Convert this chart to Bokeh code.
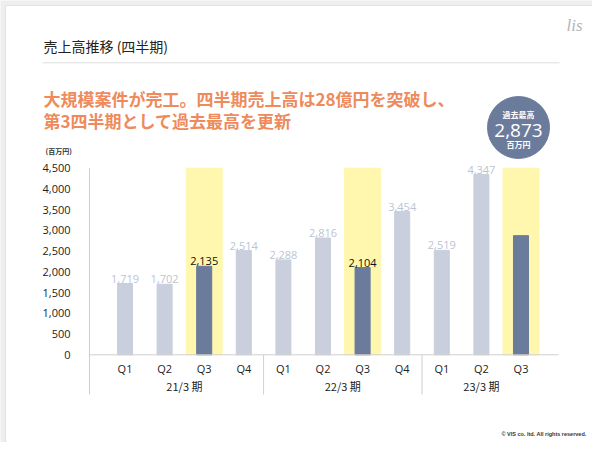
from bokeh.plotting import figure
from bokeh.models import Range1d
from bokeh.core.properties import value
from bokeh.embed import file_html
from bokeh.resources import INLINE

# data
quarters = ["Q1", "Q2", "Q3", "Q4", "Q1", "Q2", "Q3", "Q4", "Q1", "Q2", "Q3"]
periods = ["21/3 期", "22/3 期", "23/3 期"]
period_sizes = [4, 4, 3]
sales = [1719, 1702, 2135, 2514, 2288, 2816, 2104, 3454, 2519, 4347, 2873]
y_ticks = [0, 500, 1000, 1500, 2000, 2500, 3000, 3500, 4000, 4500]

title = "売上高推移 (四半期)"
headline = ["大規模案件が完工。四半期売上高は28億円を突破し、",
            "第3四半期として過去最高を更新"]
unit = "(百万円)"
badge_caption = "過去最高"
badge_unit = "百万円"
copyright_text = "© VIS co. ltd. All rights reserved."

# layout (pixels inside the figure)
W, H = 592, 442
X0, STEP = 124.5, 39.6           # centre of first bar, bar spacing
Y_ZERO, Y_TOP, Y_BOTTOM = 354.3, 167.7, 394.0
AX_LEFT, AX_RIGHT = 89, 558

LIGHT = "#c9cfdc"
DARK = "#6b7b9b"
YELLOW = "#fff7ae"
LIGHT_TXT = "#bcc3d3"
ORANGE = "#ee8a5c"
GRID = "#cfcfcf"
JP = value("Noto Sans CJK JP")
LAT = value("Open Sans")

y_max = y_ticks[-1]
ppu = (Y_ZERO - Y_TOP) / y_max

p = figure(width=W, height=H, output_backend="svg", toolbar_location=None,
           x_range=Range1d(0, W), y_range=Range1d(H, 0), min_border=0,
           x_axis_location=None, y_axis_location=None)
p.grid.visible = False
p.outline_line_color = None
p.background_fill_color = "#eeeeee"
p.border_fill_color = "#eeeeee"
p.extra_x_ranges = {"q": Range1d(-X0 / STEP, (W - X0) / STEP)}
p.extra_y_ranges = {"v": Range1d(-(H - Y_ZERO) / ppu, y_max + Y_TOP / ppu)}
v_bottom = -(Y_BOTTOM - Y_ZERO) / ppu

# slide card
p.quad(left=[5], right=[594], top=[5], bottom=[446], fill_color="white",
       line_color="#e2e2e2", line_width=1)

idx = list(range(len(sales)))
is_q3 = [q == "Q3" for q in quarters]
hl = [i for i in idx if is_q3[i]]

# highlight columns and bars
p.vbar(x=hl, top=y_max, bottom=0, width=0.91, color=YELLOW,
       x_range_name="q", y_range_name="v")
p.vbar(x=idx, top=sales, bottom=0, width=0.38,
       color=[DARK if h else LIGHT for h in is_q3],
       x_range_name="q", y_range_name="v")

# value labels (last quarter shown in the badge)
lab = idx[:-1]
p.text(x=lab, y=[sales[i] for i in lab], text=[f"{sales[i]:,}" for i in lab],
       text_color=["#111111" if is_q3[i] else LIGHT_TXT for i in lab],
       text_font=LAT, text_font_size="11px", text_align="center",
       text_baseline="bottom", y_offset=-1,
       x_range_name="q", y_range_name="v")

# axis lines
p.segment(x0=[AX_LEFT], y0=[y_max], x1=[AX_LEFT], y1=[v_bottom],
          line_color=GRID, line_width=1, y_range_name="v")
p.segment(x0=[AX_LEFT], y0=[0], x1=[AX_RIGHT], y1=[0],
          line_color=GRID, line_width=1, y_range_name="v")
bounds, start, centres = [], 0, []
for n in period_sizes:
    centres.append(start + (n - 1) / 2)
    start += n
    bounds.append(start - 0.5)
bounds = bounds[:-1]
p.segment(x0=bounds, y0=[0] * len(bounds), x1=bounds, y1=[v_bottom] * len(bounds),
          line_color=GRID, line_width=1, x_range_name="q", y_range_name="v")

# y tick labels
p.text(x=[AX_LEFT - 19] * len(y_ticks), y=y_ticks, text=[f"{t:,}" for t in y_ticks],
       text_font=LAT, text_font_size="11px", text_color="#222222",
       text_align="right", text_baseline="middle", y_range_name="v")

# x labels
p.text(x=idx, y=[0] * len(idx), text=quarters, text_font=LAT,
       text_font_size="11px", text_color="#222222", text_align="center",
       text_baseline="middle", y_offset=13.5, x_range_name="q", y_range_name="v")
p.text(x=centres, y=[0] * len(centres), text=periods, text_font=JP,
       text_font_size="11px", text_color="#222222", text_align="center",
       text_baseline="middle", y_offset=31, x_range_name="q", y_range_name="v")

# header
p.text(x=[43], y=[45], text=[title], text_font=JP, text_font_size="14px",
       text_color="#222222", text_baseline="middle")
p.segment(x0=[42], y0=[62.3], x1=[559], y1=[62.3], line_color="#dddddd", line_width=1)
p.text(x=[43, 43], y=[98.3, 120], text=headline, text_font=JP,
       text_font_size="17px", text_font_style="bold", text_color=ORANGE,
       text_baseline="middle")
p.text(x=[45], y=[150], text=[unit], text_font=JP, text_font_size="7px",
       text_font_style="bold", text_color="#333333", text_baseline="middle")

# record badge
p.circle(x=[518], y=[127], radius=31, color=DARK)
p.text(x=[518], y=[114], text=[badge_caption], text_font=JP, text_font_size="8px",
       text_font_style="bold", text_color="white", text_align="center",
       text_baseline="middle")
p.text(x=[518], y=[129.5], text=[f"{sales[-1]:,}"], text_font=LAT,
       text_font_size="19px", text_color="white", text_align="center",
       text_baseline="middle")
p.text(x=[518], y=[144], text=[badge_unit], text_font=JP, text_font_size="8px",
       text_font_style="bold", text_color="white", text_align="center",
       text_baseline="middle")

# logo mark and footer
p.text(x=[574], y=[25], text=["lis"], text_font=value("Liberation Serif"),
       text_font_size="17px", text_font_style="italic", text_color="#b5b5b5",
       text_align="center", text_baseline="middle")
p.text(x=[586], y=[433], text=[copyright_text], text_font=value("Liberation Sans"),
       text_font_size="5.5px", text_font_style="bold", text_color="#333333",
       text_align="right", text_baseline="middle")

open("out.html", "w").write(file_html(p, INLINE))
